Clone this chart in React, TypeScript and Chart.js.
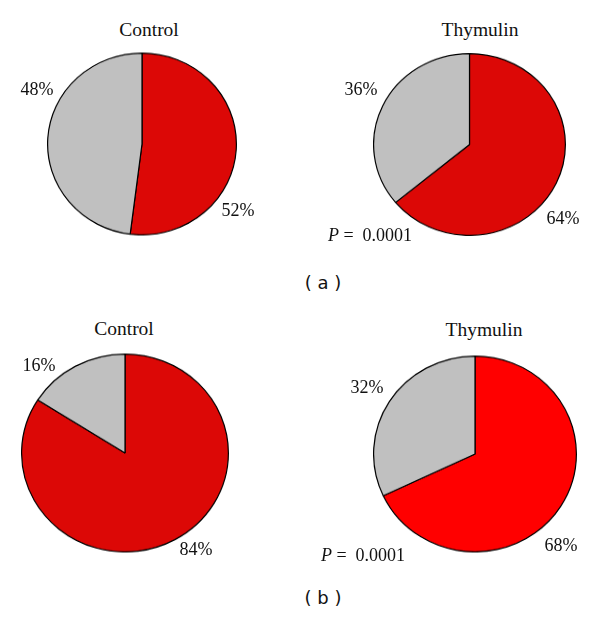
import React, { useEffect, useRef } from "react";
import { Chart, registerables } from "chart.js";

Chart.register(...registerables);

// Categories and values (percent)
const categories = ["Red", "Gray"];
const controlA = [52, 48];
const thymulinA = [64, 36];
const controlB = [84, 16];
const thymulinB = [68, 32];

const panelTitles = ["Control", "Thymulin"];
const panelLetters = ["( a )", "( b )"];
const pValueText = "0.0001";

const DARK_RED = "#DC0806";
const BRIGHT_RED = "#FF0000";
const GRAY = "#C0C0C0";

type PieProps = {
  values: number[];
  colors: string[];
  cx: number;
  cy: number;
  rx: number;
  ry: number;
};

function Pie({ values, colors, cx, cy, rx, ry }: PieProps) {
  const ref = useRef<HTMLCanvasElement | null>(null);
  const size = Math.round(rx * 2 + 1);
  useEffect(() => {
    if (!ref.current) return;
    const chart = new Chart(ref.current, {
      type: "pie",
      data: {
        labels: categories,
        datasets: [
          {
            data: values,
            backgroundColor: colors,
            borderColor: "#000000",
            borderWidth: 1.2,
          },
        ],
      },
      options: {
        responsive: false,
        animation: false,
        layout: { padding: 0 },
        plugins: {
          legend: { display: false },
          tooltip: { enabled: false },
          title: { display: false },
        },
      },
    });
    return () => chart.destroy();
  }, []);
  return (
    <div
      style={{
        position: "absolute",
        left: cx - size / 2,
        top: cy - size / 2,
        width: size,
        height: size,
        transform: `scaleY(${ry / rx})`,
        transformOrigin: "50% 50%",
      }}
    >
      <canvas ref={ref} width={size} height={size} style={{ display: "block" }} />
    </div>
  );
}

const serif = '"Liberation Serif", "DejaVu Serif", serif';
const sans = '"DejaVu Sans", Verdana, sans-serif';

function Label({
  x,
  y,
  children,
  font = serif,
  size = 18,
}: {
  x: number;
  y: number;
  children: React.ReactNode;
  font?: string;
  size?: number;
}) {
  return (
    <div
      style={{
        position: "absolute",
        left: x,
        top: y,
        transform: "translate(-50%, -50%)",
        fontFamily: font,
        fontSize: size,
        lineHeight: 1,
        whiteSpace: "nowrap",
        color: "#111",
      }}
    >
      {children}
    </div>
  );
}

export default function App() {
  return (
    <div
      style={{
        position: "absolute",
        left: 0,
        top: 0,
        width: 600,
        height: 620,
        background: "#fff",
        overflow: "hidden",
      }}
    >
      {/* Panel (a) */}
      <Pie values={controlA} colors={[DARK_RED, GRAY]} cx={141.5} cy={144} rx={94.5} ry={91} />
      <Pie values={thymulinA} colors={[DARK_RED, GRAY]} cx={469} cy={144} rx={96} ry={91} />
      <Label x={149} y={30} size={19.5}>{panelTitles[0]}</Label>
      <Label x={480} y={30} size={19.5}>{panelTitles[1]}</Label>
      <Label x={37} y={89}>{controlA[1]}%</Label>
      <Label x={238} y={210}>{controlA[0]}%</Label>
      <Label x={361} y={89}>{thymulinA[1]}%</Label>
      <Label x={563} y={218}>{thymulinA[0]}%</Label>
      <Label x={370} y={235}>
        <i>P</i> = &nbsp;{pValueText}
      </Label>
      <Label x={323} y={283} font={sans} size={18}>{panelLetters[0]}</Label>

      {/* Panel (b) */}
      <Pie values={controlB} colors={[DARK_RED, GRAY]} cx={124.5} cy={453} rx={103.5} ry={99} />
      <Pie values={thymulinB} colors={[BRIGHT_RED, GRAY]} cx={474.5} cy={454} rx={101.5} ry={98} />
      <Label x={124} y={329} size={19.5}>{panelTitles[0]}</Label>
      <Label x={484} y={330} size={19.5}>{panelTitles[1]}</Label>
      <Label x={39} y={365}>{controlB[1]}%</Label>
      <Label x={196} y={549}>{controlB[0]}%</Label>
      <Label x={367} y={387}>{thymulinB[1]}%</Label>
      <Label x={561} y={545}>{thymulinB[0]}%</Label>
      <Label x={363} y={555}>
        <i>P</i> = &nbsp;{pValueText}
      </Label>
      <Label x={323} y={598} font={sans} size={18}>{panelLetters[1]}</Label>
    </div>
  );
}
